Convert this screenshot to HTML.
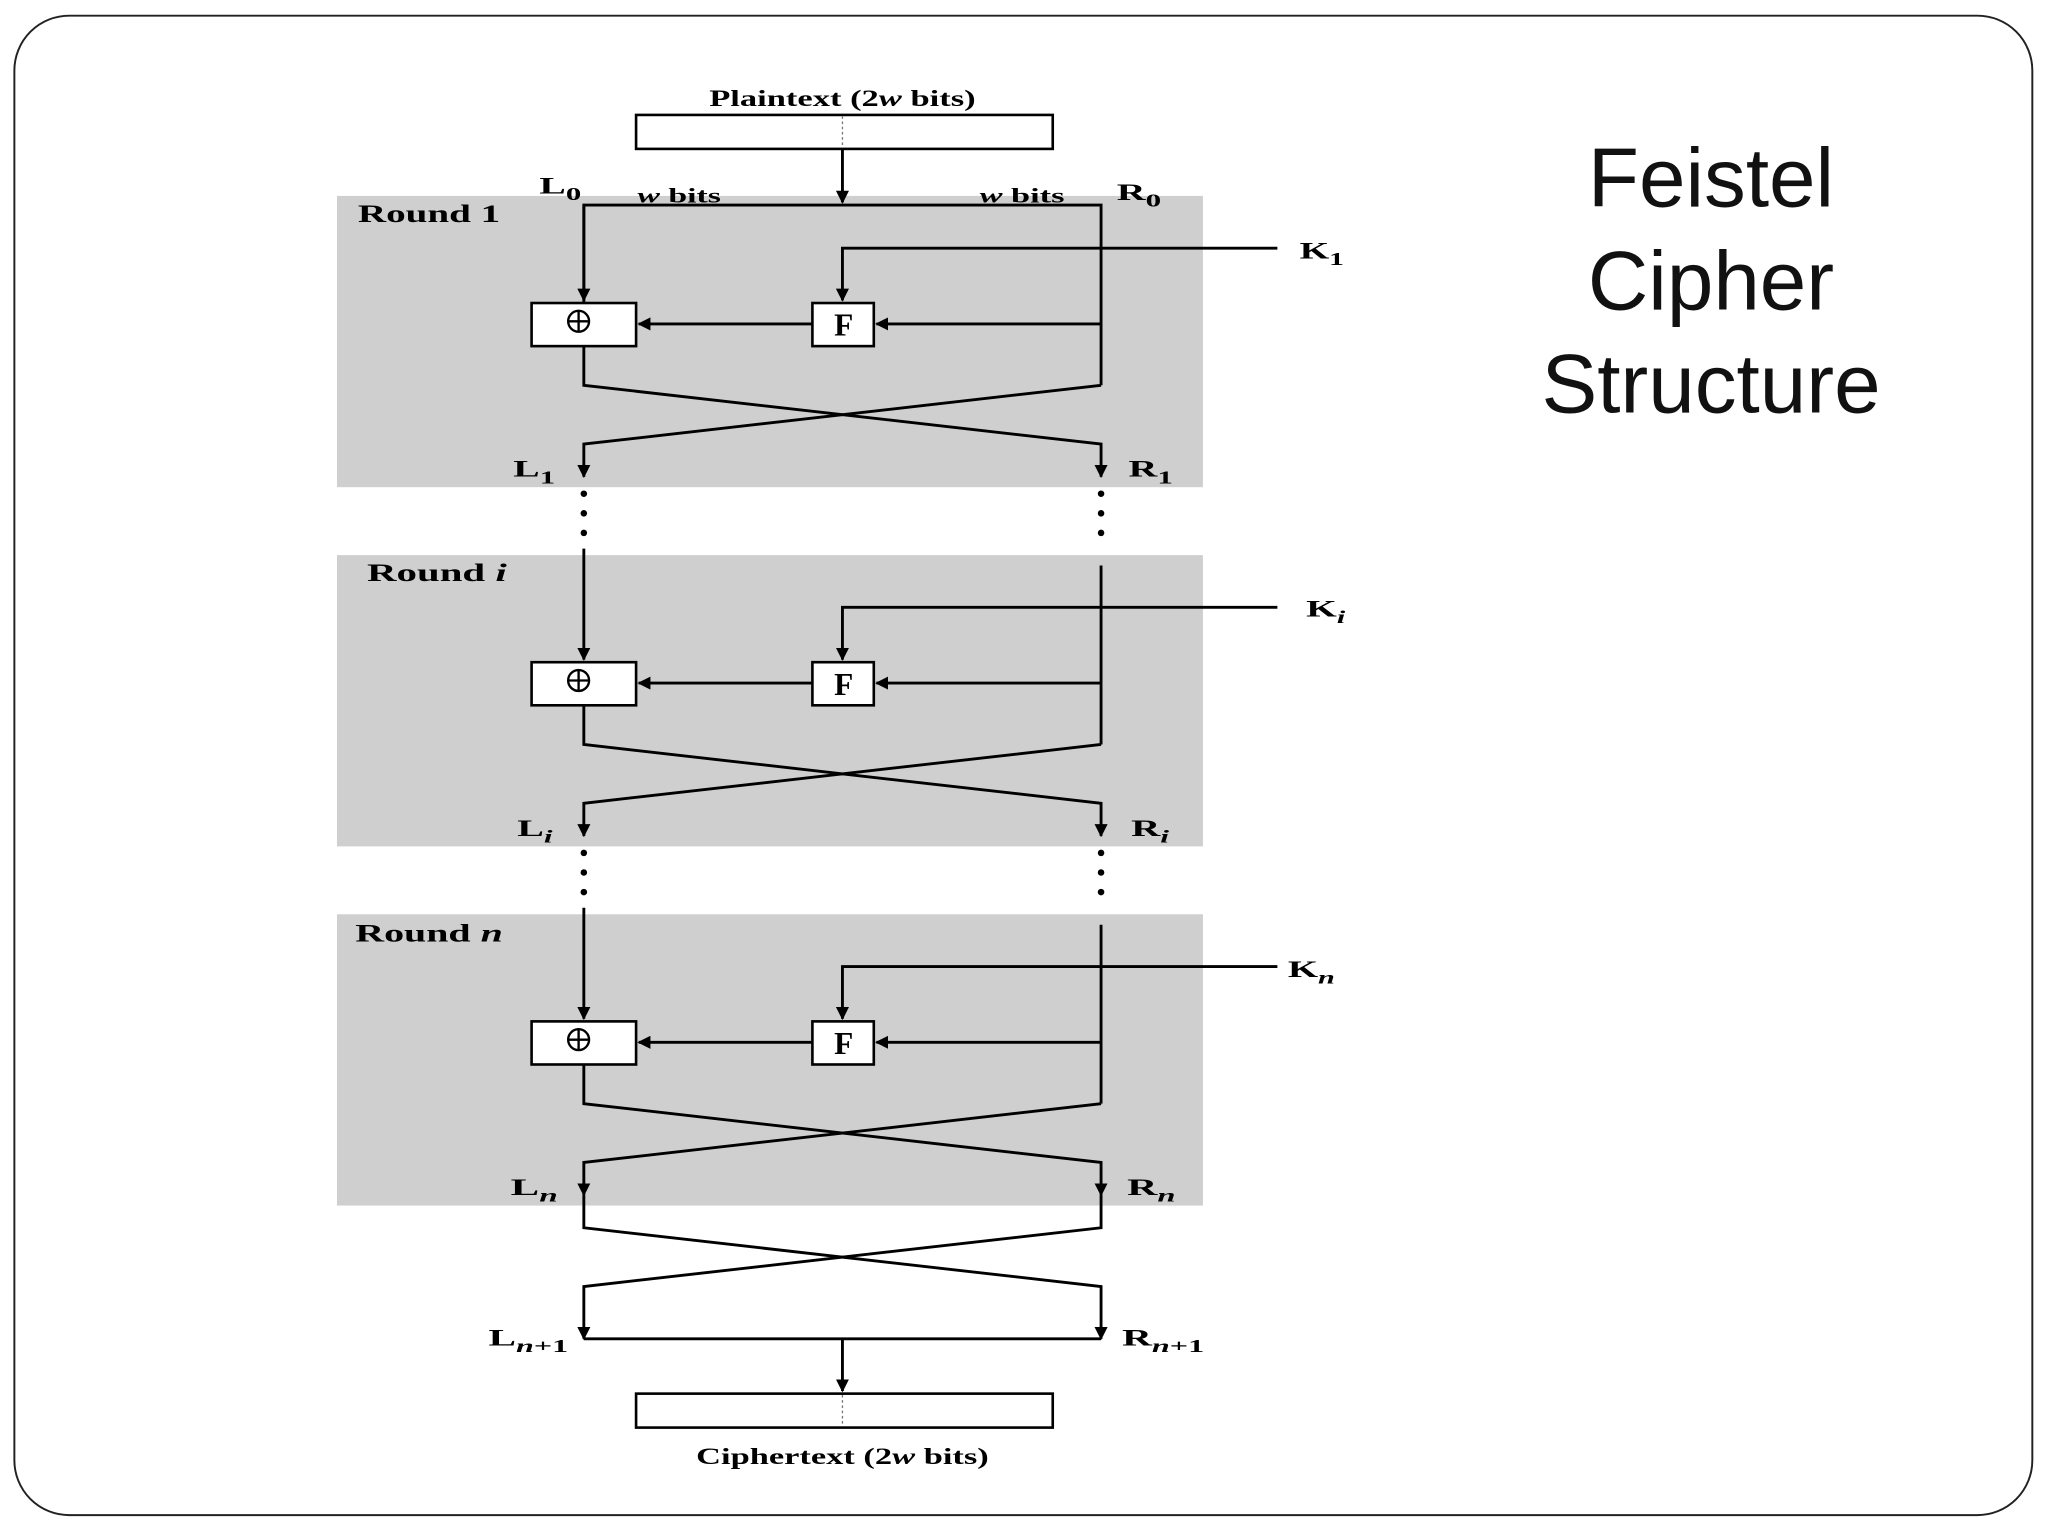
<!DOCTYPE html>
<html><head><meta charset="utf-8"><style>
html,body{margin:0;padding:0;background:#fff;}
svg{display:block;}
</style></head><body>
<svg width="2048" height="1536" viewBox="0 0 1568 1176" xmlns="http://www.w3.org/2000/svg">
<defs>
<marker id="a" markerWidth="10" markerHeight="10" refX="9" refY="5" orient="auto" markerUnits="userSpaceOnUse">
<path d="M0,0 L10,5 L0,10 Z" fill="#000"/>
</marker>
</defs>
<rect x="11" y="12" width="1545" height="1148" rx="42" ry="42" fill="#fff" stroke="#222" stroke-width="1.5"/>
<g fill="#cfcfcf">
<rect x="258" y="150" width="663" height="223"/>
<rect x="258" y="425" width="663" height="223"/>
<rect x="258" y="700" width="663" height="223"/>
</g>
<g font-family="Liberation Serif, serif" font-weight="bold" font-size="18" fill="#000">
<text x="543" y="81" textLength="204" lengthAdjust="spacingAndGlyphs">Plaintext (2<tspan font-style="italic">w</tspan> bits)</text>
<text x="533" y="1121" textLength="224" lengthAdjust="spacingAndGlyphs">Ciphertext (2<tspan font-style="italic">w</tspan> bits)</text>
<text x="274" y="170" font-size="19" textLength="109" lengthAdjust="spacingAndGlyphs">Round 1</text>
<text x="281" y="445" font-size="19" textLength="107" lengthAdjust="spacingAndGlyphs">Round <tspan font-style="italic">i</tspan></text>
<text x="272" y="721" font-size="19" textLength="113" lengthAdjust="spacingAndGlyphs">Round <tspan font-style="italic">n</tspan></text>
<text x="488" y="155" font-size="16" textLength="64" lengthAdjust="spacingAndGlyphs"><tspan font-style="italic">w</tspan> bits</text>
<text x="750" y="155" font-size="16" textLength="65" lengthAdjust="spacingAndGlyphs"><tspan font-style="italic">w</tspan> bits</text>
<text x="413" y="148" textLength="32" lengthAdjust="spacingAndGlyphs">L<tspan font-size="14" dy="5">0</tspan></text>
<text x="855" y="153" textLength="34" lengthAdjust="spacingAndGlyphs">R<tspan font-size="14" dy="5">0</tspan></text>
<text x="995" y="198" textLength="34" lengthAdjust="spacingAndGlyphs">K<tspan font-size="14" dy="5">1</tspan></text>
<text x="1000" y="472" textLength="30" lengthAdjust="spacingAndGlyphs">K<tspan font-size="14" dy="5" font-style="italic">i</tspan></text>
<text x="986" y="748" textLength="36" lengthAdjust="spacingAndGlyphs">K<tspan font-size="14" dy="5" font-style="italic">n</tspan></text>
<text x="393" y="365" textLength="32" lengthAdjust="spacingAndGlyphs">L<tspan font-size="14" dy="5">1</tspan></text>
<text x="864" y="365" textLength="34" lengthAdjust="spacingAndGlyphs">R<tspan font-size="14" dy="5">1</tspan></text>
<text x="396" y="640" textLength="27" lengthAdjust="spacingAndGlyphs">L<tspan font-size="14" dy="5" font-style="italic">i</tspan></text>
<text x="866" y="640" textLength="29" lengthAdjust="spacingAndGlyphs">R<tspan font-size="14" dy="5" font-style="italic">i</tspan></text>
<text x="391" y="915" textLength="36" lengthAdjust="spacingAndGlyphs">L<tspan font-size="14" dy="5" font-style="italic">n</tspan></text>
<text x="863" y="915" textLength="37" lengthAdjust="spacingAndGlyphs">R<tspan font-size="14" dy="5" font-style="italic">n</tspan></text>
<text x="374" y="1030" textLength="61" lengthAdjust="spacingAndGlyphs">L<tspan font-size="14" dy="5"><tspan font-style="italic">n</tspan>+1</tspan></text>
<text x="859" y="1030" textLength="63" lengthAdjust="spacingAndGlyphs">R<tspan font-size="14" dy="5"><tspan font-style="italic">n</tspan>+1</tspan></text>
</g>
<g fill="#fff" stroke="#000" stroke-width="2">
<rect x="487" y="88" width="319" height="26"/>
<rect x="487" y="1067" width="319" height="26"/>
<rect x="407" y="232" width="80" height="33"/>
<rect x="622" y="232" width="47" height="33"/>
<rect x="407" y="507" width="80" height="33"/>
<rect x="622" y="507" width="47" height="33"/>
<rect x="407" y="782" width="80" height="33"/>
<rect x="622" y="782" width="47" height="33"/>
</g>
<g stroke="#777" stroke-width="1" stroke-dasharray="2,2">
<line x1="645" y1="89" x2="645" y2="113"/><line x1="645" y1="1068" x2="645" y2="1092"/>
</g>
<g font-family="Liberation Serif, serif" font-weight="bold" font-size="24" text-anchor="middle">
<text x="646" y="257">F</text><text x="646" y="532">F</text><text x="646" y="807">F</text>
</g>
<g stroke="#000" stroke-width="1.8" fill="none">
<g id="xo"><circle cx="443" cy="246" r="8"/><line x1="435" y1="246" x2="451" y2="246"/><line x1="443" y1="238" x2="443" y2="254"/></g>
<use href="#xo" y="275"/><use href="#xo" y="550"/>
</g>
<g stroke="#000" stroke-width="2.2" fill="none">
<line x1="645" y1="114" x2="645" y2="155" marker-end="url(#a)"/>
<polyline points="447,232 447,157 843,157 843,295"/>
<line x1="447" y1="157" x2="447" y2="230" marker-end="url(#a)"/>
<polyline points="978,190 645,190 645,230" marker-end="url(#a)"/>
<line x1="843" y1="248" x2="671" y2="248" marker-end="url(#a)"/>
<line x1="622" y1="248" x2="489" y2="248" marker-end="url(#a)"/>
<polyline points="447,265 447,295 843,340 843,365" marker-end="url(#a)"/>
<polyline points="843,295 447,340 447,365" marker-end="url(#a)"/>
<line x1="447" y1="420" x2="447" y2="505" marker-end="url(#a)"/>
<line x1="843" y1="433" x2="843" y2="570"/>
<polyline points="978,465 645,465 645,505" marker-end="url(#a)"/>
<line x1="843" y1="523" x2="671" y2="523" marker-end="url(#a)"/>
<line x1="622" y1="523" x2="489" y2="523" marker-end="url(#a)"/>
<polyline points="447,540 447,570 843,615 843,640" marker-end="url(#a)"/>
<polyline points="843,570 447,615 447,640" marker-end="url(#a)"/>
<line x1="447" y1="695" x2="447" y2="780" marker-end="url(#a)"/>
<line x1="843" y1="708" x2="843" y2="845"/>
<polyline points="978,740 645,740 645,780" marker-end="url(#a)"/>
<line x1="843" y1="798" x2="671" y2="798" marker-end="url(#a)"/>
<line x1="622" y1="798" x2="489" y2="798" marker-end="url(#a)"/>
<polyline points="447,815 447,845 843,890 843,915" marker-end="url(#a)"/>
<polyline points="843,845 447,890 447,915" marker-end="url(#a)"/>
<polyline points="447,915 447,940 843,985 843,1025" marker-end="url(#a)"/>
<polyline points="843,915 843,940 447,985 447,1025" marker-end="url(#a)"/>
<line x1="447" y1="1025" x2="843" y2="1025"/>
<line x1="645" y1="1025" x2="645" y2="1065" marker-end="url(#a)"/>
</g>
<g fill="#000">
<circle cx="447" cy="378" r="2.5"/><circle cx="447" cy="393" r="2.5"/><circle cx="447" cy="408" r="2.5"/>
<circle cx="843" cy="378" r="2.5"/><circle cx="843" cy="393" r="2.5"/><circle cx="843" cy="408" r="2.5"/>
<circle cx="447" cy="653" r="2.5"/><circle cx="447" cy="668" r="2.5"/><circle cx="447" cy="683" r="2.5"/>
<circle cx="843" cy="653" r="2.5"/><circle cx="843" cy="668" r="2.5"/><circle cx="843" cy="683" r="2.5"/>
</g>
<g font-family="Liberation Sans, sans-serif" font-size="64" text-anchor="middle" fill="#111">
<text x="1310" y="158">Feistel</text>
<text x="1310" y="237">Cipher</text>
<text x="1310" y="316">Structure</text>
</g>
</svg>
</body></html>
